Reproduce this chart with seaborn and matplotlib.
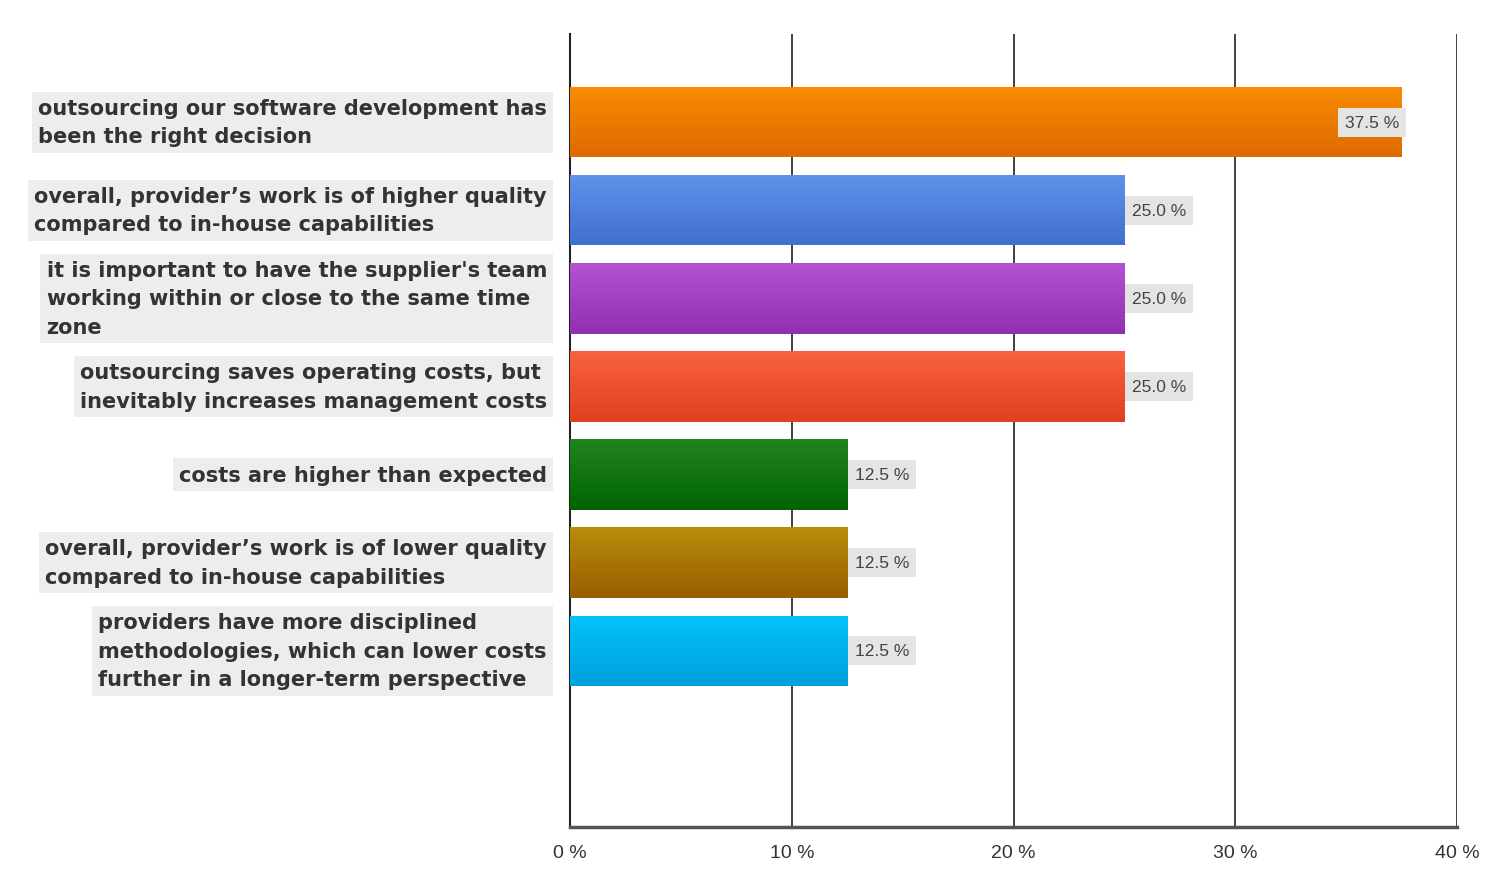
import numpy as np
import pandas as pd
import matplotlib
matplotlib.use("Agg")
import matplotlib.pyplot as plt
import seaborn as sns
from matplotlib.colors import LinearSegmentedColormap

categories = [
    "outsourcing our software development has\nbeen the right decision",
    "overall, provider\u2019s work is of higher quality\ncompared to in-house capabilities",
    "it is important to have the supplier's team\nworking within or close to the same time\nzone",
    "outsourcing saves operating costs, but\ninevitably increases management costs",
    "costs are higher than expected",
    "overall, provider\u2019s work is of lower quality\ncompared to in-house capabilities",
    "providers have more disciplined\nmethodologies, which can lower costs\nfurther in a longer-term perspective",
]
values = [37.5, 25.0, 25.0, 25.0, 12.5, 12.5, 12.5]
top_colors = ["#F98C02", "#6092EA", "#B452D2", "#F8623F", "#218421", "#BA8C0A", "#03C2FA"]
bottom_colors = ["#DE6A00", "#406FCF", "#9030B0", "#DF4020", "#006400", "#965E00", "#00A0DE"]
x_ticks = [0, 10, 20, 30, 40]
x_tick_labels = ["0 %", "10 %", "20 %", "30 %", "40 %"]

df = pd.DataFrame({"category": categories, "value": values})

sns.set_style("white")
plt.rcParams["font.family"] = ["DejaVu Sans"]

fig = plt.figure(figsize=(14.92, 8.87), dpi=100)
ax = fig.add_axes([570/1492, 1-828/887, (1457-570)/1492, (828-35)/887])

sns.barplot(data=df, x="value", y="category", hue="category", palette=top_colors,
            legend=False, width=0.8, ax=ax, zorder=3, linewidth=0, saturation=1)

# gradient fill for each bar
for patch, c1, c2 in zip(ax.patches, top_colors, bottom_colors):
    x0, y0 = patch.get_x(), patch.get_y()
    w, h = patch.get_width(), patch.get_height()
    cmap = LinearSegmentedColormap.from_list("g", [c1, c2])
    grad = np.linspace(0, 1, 64).reshape(-1, 1)
    im = ax.imshow(grad, cmap=cmap, aspect="auto", extent=[x0, x0 + w, y0 + h, y0],
                   origin="upper", zorder=3.5, interpolation="bicubic")
    im.set_clip_path(patch)

ax.set_xlim(0, 40)
ax.set_ylim(8, -1)
ax.set_xticks(x_ticks)
ax.set_xticklabels(x_tick_labels, fontsize=14, color="#333333", family="Liberation Sans")
ax.set_yticks(range(8))
ax.set_yticklabels([""] * 8)
ax.set_xlabel("")
ax.set_ylabel("")

ax.xaxis.grid(True, color="#404040", linewidth=1.4, zorder=0)
ax.set_axisbelow(True)
for s in ["top", "right"]:
    ax.spines[s].set_visible(False)
ax.spines["left"].set_color("#222222")
ax.spines["left"].set_linewidth(1.5)
ax.spines["bottom"].set_color("#555555")
ax.spines["bottom"].set_linewidth(2.5)
ax.tick_params(axis="y", length=12, width=1.5, color="#666666", direction="out", pad=0)
ax.tick_params(axis="x", length=12, width=1.5, color="#333333", direction="inout", pad=6)

# category labels with boxes
for i, cat in enumerate(categories):
    ax.text(-0.026, i, cat, transform=ax.get_yaxis_transform(), ha="right", va="center",
            multialignment="left", fontsize=15, fontweight="bold", color="#333333",
            linespacing=1.53,
            bbox=dict(boxstyle="square,pad=0.3", facecolor="#EFEDEC", edgecolor="none"))

# value labels
for i, v in enumerate(values):
    txt = f"{v:.1f} %"
    if v > 35:
        ax.text(v - 0.1, i, txt, ha="right", va="center", fontsize=12.5, color="#444444",
                family="Liberation Sans", zorder=5,
                bbox=dict(boxstyle="square,pad=0.4", facecolor="#E4E4E4", edgecolor="none"))
    else:
        ax.text(v + 0.35, i, txt, ha="left", va="center", fontsize=12.5, color="#444444",
                family="Liberation Sans", zorder=5,
                bbox=dict(boxstyle="square,pad=0.4", facecolor="#E4E4E4", edgecolor="none"))

fig.savefig("out.png", dpi=100, facecolor="white")
